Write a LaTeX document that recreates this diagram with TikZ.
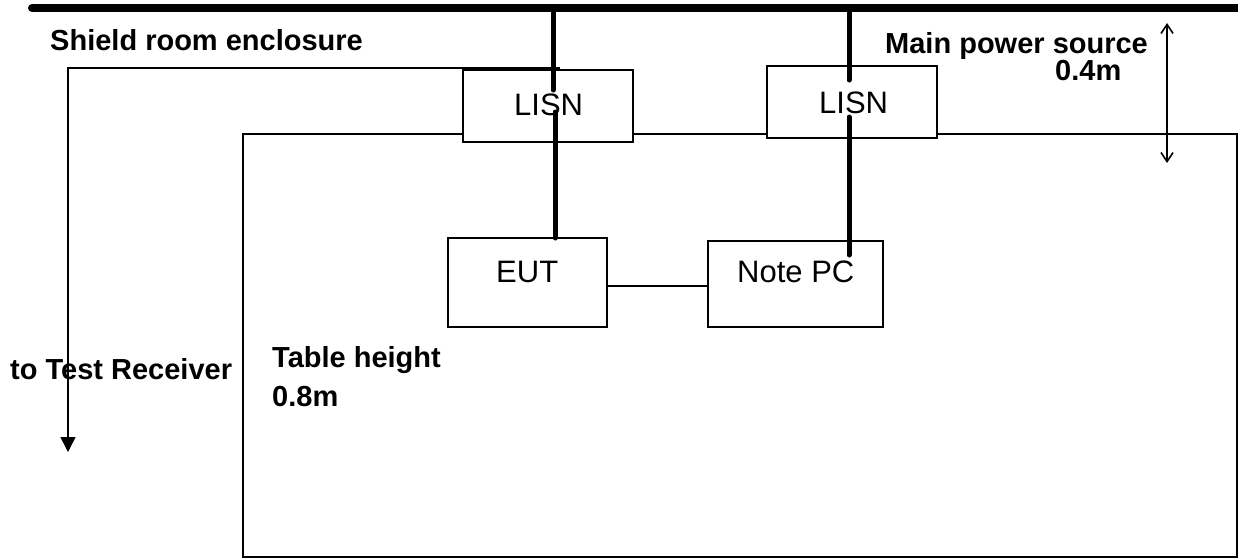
\documentclass[tikz,border=0pt]{standalone}
\usepackage{fontspec}
\setmainfont{Liberation Sans}
\usetikzlibrary{arrows.meta}
\begin{document}
\begin{tikzpicture}[x=1pt,y=-1pt,
  thinline/.style={line width=1.6pt},
  box/.style={draw, line width=1.6pt, fill=white, inner sep=0pt, outer sep=0pt},
  feed/.style={line width=5pt, line cap=round},
  boldlbl/.style={font=\fontsize{29}{34}\selectfont\bfseries, inner sep=0pt, anchor=base west},
  reglbl/.style={font=\fontsize{31}{36}\selectfont, inner sep=0pt, anchor=base west},
  barb/.tip={Straight Barb[length=9pt,width=12pt]}]
\useasboundingbox (0,0) rectangle (1238,558);
% table
\node[draw, line width=1.6pt, inner sep=0pt, outer sep=0pt, minimum width=994pt, minimum height=423pt, anchor=north west] (table) at (243,134) {};
% shield room enclosure line and arrow to receiver
\coordinate (shieldEnd) at (560,68);
\coordinate (corner) at (68,68);
\coordinate (rx) at (68,452);
\draw[thinline, -{Triangle[length=15pt,width=15pt]}] (shieldEnd) -- (corner) -- (rx);
% boxes
\node[box, minimum width=170pt, minimum height=72pt] (lisn1) at (548,106) {};
\node[box, minimum width=170pt, minimum height=72pt] (lisn2) at (852,102) {};
\node[box, minimum width=159pt, minimum height=89pt] (eut) at (527.5,282.5) {};
\node[box, minimum width=175pt, minimum height=86pt] (pc) at (795.5,284) {};
% connector EUT - PC
\draw[thinline] (eut.east |- 0,286) -- (pc.west |- 0,286);
% power feeds
\coordinate (f1top) at (553,8);
\coordinate (f1mid) at (553,90);
\coordinate (f1low) at (555,112);
\coordinate (f2top) at (849,8);
\coordinate (f2mid) at (849,80);
\coordinate (f2low) at (849,117);
\coordinate (f2end) at (849,255);
\draw[feed] (f1top) -- (f1mid);
\draw[feed] (f1low) -- (f1low |- eut.north);
\draw[feed] (f2top) -- (f2mid);
\draw[feed] (f2low) -- (f2end);
% main bus
\coordinate (busL) at (32,8);
\coordinate (busR) at (1250,8);
\draw[line width=8pt, line cap=round] (busL) -- (busR);
% 0.4m dimension
\coordinate (dimTop) at (1167,23);
\coordinate (dimBot) at (1167,163);
\draw[thinline, barb-barb] (dimTop) -- (dimBot);
% labels
\node[boldlbl] (tShield) at (50,50) {Shield room enclosure};
\node[boldlbl] (tMain) at (885,53) {Main power source};
\node[boldlbl] (tDist) at (1055,80) {0.4m};
\node[boldlbl] (tRx) at (10,379) {to Test Receiver};
\node[boldlbl] (tTable) at (272,367) {Table height};
\node[boldlbl] (tTableH) at (272,406) {0.8m};
\node[reglbl] (tL1) at (514,115) {LISN};
\node[reglbl] (tL2) at (819,113) {LISN};
\node[reglbl] (tEut) at (496,282) {EUT};
\node[reglbl] (tPc) at (737,282) {Note PC};
\end{tikzpicture}
\end{document}
